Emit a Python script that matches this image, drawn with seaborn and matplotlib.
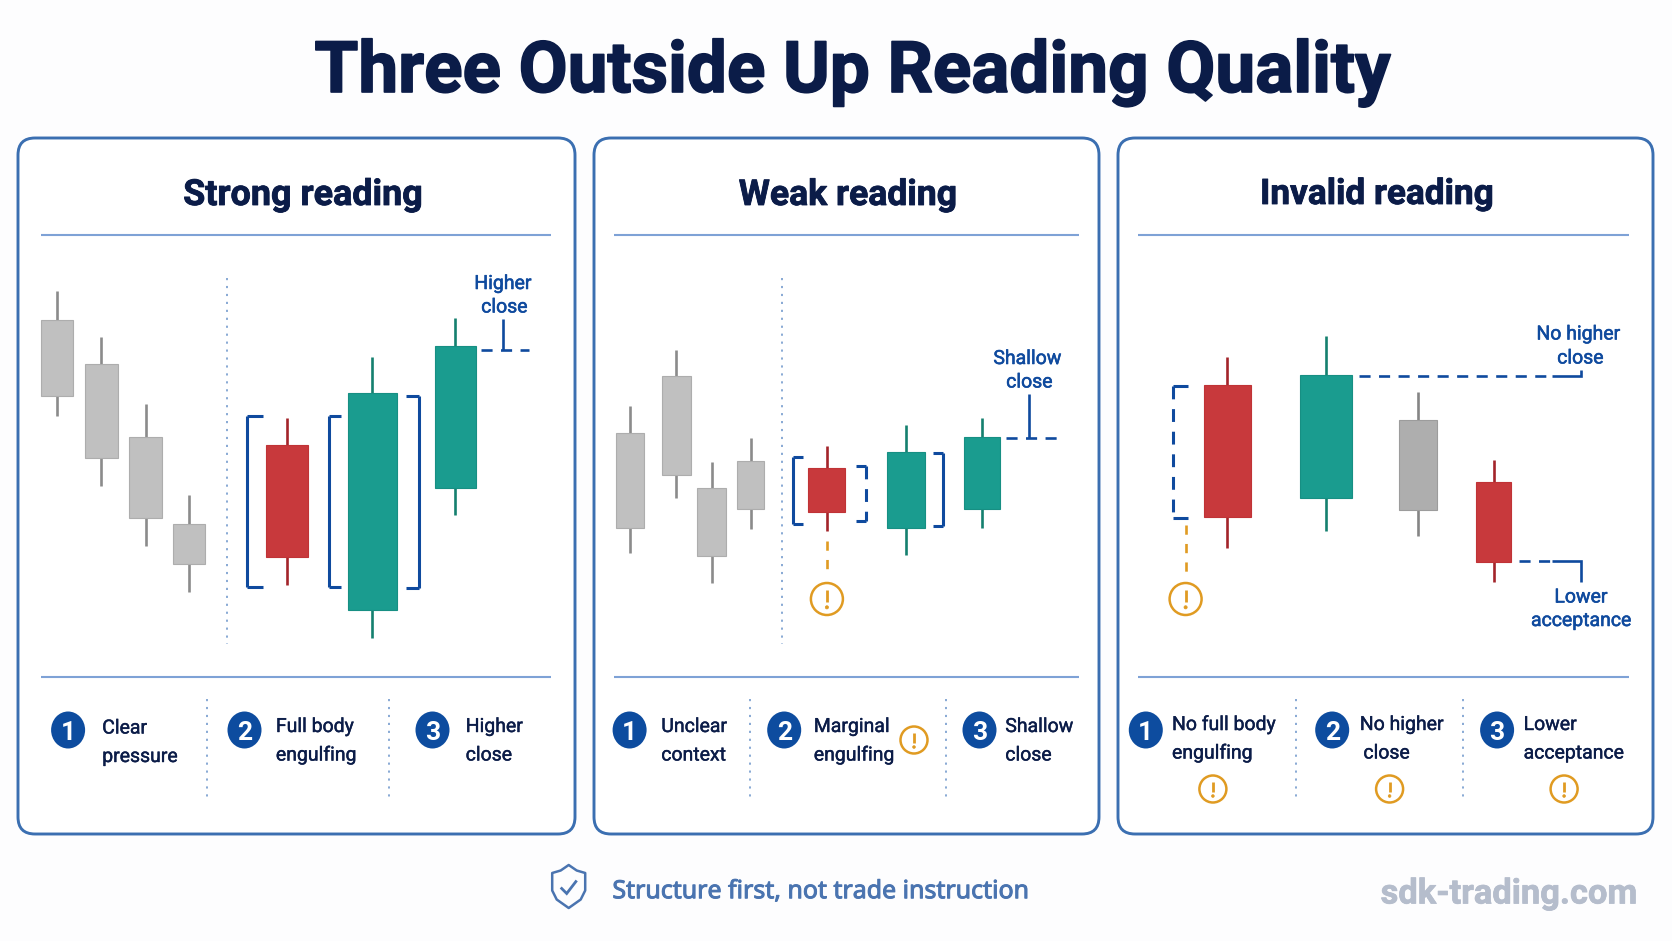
import matplotlib
matplotlib.use("Agg")
import matplotlib.pyplot as plt
import matplotlib.patheffects as pe
import seaborn as sns
import pandas as pd
from matplotlib.patches import FancyBboxPatch, Circle, Ellipse, Polygon

# ---------- data: candle levels (arbitrary price units) ----------
PANEL_TITLES = ["Strong reading", "Weak reading", "Invalid reading"]
MAIN_TITLE = "Three Outside Up Reading Quality"

STRONG_KIND = ["ctx", "ctx", "ctx", "ctx", "red", "green", "green"]
STRONG_HIGH = [650, 604, 537, 446, 523, 584, 623]
STRONG_TOP = [621, 577.5, 504.5, 417, 496, 548, 595]
STRONG_BOT = [545, 483, 423, 377, 384, 331, 453]
STRONG_LOW = [525, 455, 395, 349, 356, 303, 426]

WEAK_KIND = ["ctx", "ctx", "ctx", "ctx", "red", "green", "green"]
WEAK_HIGH = [535, 591, 479, 503, 495, 516, 523]
WEAK_TOP = [508, 565, 453, 480, 473.5, 489, 504]
WEAK_BOT = [413, 466, 385, 432, 429.5, 413, 432]
WEAK_LOW = [388, 443, 358, 412, 410, 386, 413]

INVALID_KIND = ["red", "green", "ctx2", "red"]
INVALID_HIGH = [584, 605, 549, 481]
INVALID_TOP = [556, 566.5, 521, 459.5]
INVALID_BOT = [424, 443, 431, 379.5]
INVALID_LOW = [393, 410, 405, 359.5]

STEPS_STRONG = [["Clear", "pressure"], ["Full body", "engulfing"], ["Higher", "close"]]
STEPS_WEAK = [["Unclear", "context"], ["Marginal", "engulfing"], ["Shallow", "close"]]
STEPS_INVALID = [["No full body", "engulfing"], ["No higher", "close"], ["Lower", "acceptance"]]

# ---------- layout (pixels) ----------
W, H = 1672, 941
STRONG_X = [56.9, 101.4, 145.8, 189.2, 287.2, 372, 455.4]
STRONG_W = [32.4, 32.8, 32.8, 32.4, 41.8, 49, 41]
WEAK_X = [629.6, 676.4, 711.7, 750.5, 826.5, 905.9, 981.9]
WEAK_W = [28.2, 28.2, 28.6, 26.2, 36.5, 38.2, 35.8]
INVALID_X = [1227.2, 1326.1, 1417.5, 1493.5]
INVALID_W = [46.6, 51.6, 38, 34.4]

FRAMES = [(18, 575), (594, 1099), (1118, 1653)]
RULES = [(40.5, 551), (614, 1079), (1138, 1629)]
TITLE_X = [302.7, 847.7, 1376.5]
TITLE_W = [239, 217.5, 233]

NAVY = "#0b1c48"
BLUE = "#0f4a9e"
FRAME = "#3b6fb1"
RULE = "#7ea2d6"
ORANGE = "#e09b22"
STYLE = {
    "ctx": ("#c0c0c0", "#adadad", "#8b8b8b"),
    "ctx2": ("#aeaeae", "#9c9c9c", "#858585"),
    "red": ("#c8393c", "#c03336", "#a3242a"),
    "green": ("#1a9c8f", "#178f83", "#15806f"),
}

sns.set_theme(style="white")
FONT = ["Roboto", "DejaVu Sans"]
plt.rcParams["font.family"] = FONT

BG = "#fdfdfe"
fig = plt.figure(figsize=(W / 100, H / 100), dpi=100, facecolor=BG)
deco = fig.add_axes([0, 0, 1, 1], zorder=1)
deco.set_xlim(0, W)
deco.set_ylim(H, 0)
deco.axis("off")
deco.patch.set_alpha(0)
renderer = fig.canvas.get_renderer()


def text(x, y, s, size=None, width=None, color=NAVY, weight="normal", ha="center", family=None, stroke=0.0):
    t = deco.text(x, y, s, color=color, fontweight=weight, ha=ha, va="center_baseline",
                  fontsize=size or 20, family=family or FONT, zorder=6)
    if width:
        w = t.get_window_extent(renderer).width
        t.set_fontsize(t.get_fontsize() * width / w)
    if stroke:
        t.set_path_effects([pe.withStroke(linewidth=stroke, foreground=color)])
    return t


def line(xs, ys, color=BLUE, lw=2.0, ls="-", z=4):
    deco.plot(xs, ys, color=color, lw=lw, ls=ls, zorder=z, solid_capstyle="butt",
              dash_capstyle="butt", solid_joinstyle="miter")


DASH = (0, (4.2, 3.2))
DOT = (0, (1.2, 3.2))
NOTE = dict(size=14.0, color=BLUE, stroke=0.4)
LOWTXT = dict(size=14.0, ha="left", stroke=0.3)


def bracket(x_spine, x_tip, y0, y1, dashed=False):
    line([x_tip, x_spine], [y0, y0], lw=2.2)
    line([x_tip, x_spine], [y1, y1], lw=2.2)
    line([x_spine, x_spine], [y0, y1], lw=2.2, ls=DASH if dashed else "-")


def warn(x, y, r=14):
    deco.add_patch(Circle((x, y), r, fill=False, ec=ORANGE, lw=1.8, zorder=5))
    line([x, x], [y - r * 0.55, y + r * 0.2], color=ORANGE, lw=2.0, z=6)
    deco.add_patch(Circle((x, y + r * 0.52), r * 0.1, fc=ORANGE, ec=ORANGE, lw=0.5, zorder=6))


def badge(x, n, y=730):
    deco.add_patch(Ellipse((x, y), 34, 37, fc="#0d4c9f", ec="none", zorder=5))
    text(x, y + 1, str(n), size=19, color="white", weight="bold")


def candles(frame, xs, ws, highs, tops, bots, lows, kinds):
    x0, x1 = frame
    y_top, y_bot = 250, 665
    ax = fig.add_axes([x0 / W, 1 - y_bot / H, (x1 - x0) / W, (y_bot - y_top) / H], zorder=2)
    ax.patch.set_alpha(0)
    for x, w, hi, t, b, lo, k in zip(xs, ws, highs, tops, bots, lows, kinds):
        body, edge, wick = STYLE[k]
        ax.vlines(x, lo, hi, color=wick, lw=1.9, zorder=1)
        df = pd.DataFrame({"x": [x], "size": [t - b]})
        sns.barplot(data=df, x="x", y="size", bottom=b, width=w, native_scale=True, color=body,
                    saturation=1, errorbar=None, edgecolor=edge, linewidth=0.8, ax=ax, zorder=2)
    ax.set_xlim(x0, x1)
    ax.set_ylim(H - y_bot, H - y_top)
    ax.axis("off")
    return ax


# ---------- frames and headers ----------
for (fx0, fx1), (rx0, rx1), title, tx, tw in zip(FRAMES, RULES, PANEL_TITLES, TITLE_X, TITLE_W):
    deco.add_patch(FancyBboxPatch((fx0, 138), fx1 - fx0, 696, boxstyle="round,pad=0,rounding_size=17",
                                  fc="white", ec=FRAME, lw=2.1, zorder=1))
    line([rx0, rx1], [234.6, 234.6], color=RULE, lw=1.5, z=2)
    line([rx0, rx1], [676.5, 676.5], color=RULE, lw=1.5, z=2)
    text(tx, 191, title, width=tw, weight="bold", stroke=0.6)

text(852, 65.5, MAIN_TITLE, width=1073, weight="bold", stroke=1.2)

# ---------- candles ----------
candles(FRAMES[0], STRONG_X, STRONG_W, STRONG_HIGH, STRONG_TOP, STRONG_BOT, STRONG_LOW, STRONG_KIND)
candles(FRAMES[1], WEAK_X, WEAK_W, WEAK_HIGH, WEAK_TOP, WEAK_BOT, WEAK_LOW, WEAK_KIND)
candles(FRAMES[2], INVALID_X, INVALID_W, INVALID_HIGH, INVALID_TOP, INVALID_BOT, INVALID_LOW, INVALID_KIND)

# ---------- panel 1 annotation ----------
SEP = "#7fa3d1"
line([226.9, 226.9], [278, 644], color=SEP, lw=1.3, ls=DOT, z=2)
bracket(246.8, 263, 416, 587.3)
bracket(329.2, 340.5, 416, 587.3)
bracket(418.7, 406.3, 395.5, 588.3)
line([480.8, 529.3], [349.7, 349.7], lw=1.9, ls=DASH)
line([503, 503], [319, 349.7], lw=1.9)
text(503, 282, "Higher", **NOTE)
text(504.5, 305.5, "close", **NOTE)

# ---------- panel 2 annotation ----------
line([782.1, 782.1], [278, 644], color=SEP, lw=1.3, ls=DOT, z=2)
bracket(792.8, 803.1, 456.8, 523.9)
bracket(865.5, 855.5, 466.1, 521.2, dashed=True)
bracket(942.6, 932.6, 453, 526)
line([1006.3, 1058.7], [437.5, 437.5], lw=1.9, ls=DASH)
line([1028.7, 1028.7], [394, 437.5], lw=1.9)
text(1027.5, 357, "Shallow", **NOTE)
text(1029.5, 380.5, "close", **NOTE)
line([826.9, 826.9], [541, 575], color=ORANGE, lw=1.9, ls=(0, (3.5, 3.5)))
warn(826.9, 599, 16)

# ---------- panel 3 annotation ----------
bracket(1172.7, 1188.1, 386.2, 517.7, dashed=True)
line([1185.6, 1185.6], [525, 575], color=ORANGE, lw=1.9, ls=(0, (3.5, 3.5)))
warn(1185.6, 599, 16)
line([1359, 1552], [375.5, 375.5], lw=1.9, ls=DASH)
line([1552, 1581.3, 1581.3], [375.5, 375.5, 370], lw=1.9)
text(1578.5, 332.5, "No higher", **NOTE)
text(1580.5, 356.5, "close", **NOTE)
line([1518.6, 1552], [561, 561], lw=1.9, ls=DASH)
line([1552, 1581.3, 1581.3], [561, 561, 581.5], lw=1.9)
text(1581, 595.5, "Lower", **NOTE)
text(1581.5, 619, "acceptance", **NOTE)

# ---------- step rows ----------
for i, (bx, tx, (a, b)) in enumerate(zip([68.1, 244.5, 432.5], [102.2, 275.9, 465.7], STEPS_STRONG)):
    badge(bx, i + 1)
    dy = 1.5 if i == 0 else 0
    text(tx, 725 + dy, a, **LOWTXT)
    text(tx, 753.5 + dy, b, **LOWTXT)
for i, (bx, tx, (a, b)) in enumerate(zip([629.6, 784.2, 979.5], [661.3, 813.8, 1005.3], STEPS_WEAK)):
    badge(bx, i + 1)
    text(tx, 725, a, **LOWTXT)
    text(tx, 753.5, b, **LOWTXT)
warn(914, 740, 13.5)
for i, (bx, tx, tx2, wx, (a, b)) in enumerate(zip([1145.8, 1332.2, 1497.1], [1172, 1359.8, 1523.6],
                                                  [1172, 1363.4, 1523.6], [1212.9, 1389.6, 1564.1], STEPS_INVALID)):
    badge(bx, i + 1)
    text(tx, 723, a, **LOWTXT)
    text(tx2, 751.5, b, **LOWTXT)
    warn(wx, 789, 13.5)
for x in [207.4, 389.2, 750.1, 946.1, 1295.7, 1463.4]:
    line([x, x], [699, 797], color=SEP, lw=1.3, ls=DOT, z=2)

# ---------- footer ----------
FOOT = "#4a74b0"
sx, sy = 568.7, 886.5
shield = [(0, -21.5), (8, -16), (16.5, -13.5), (16.5, 4), (12, 13), (0, 21.5), (-12, 13), (-16.5, 4), (-16.5, -13.5), (-8, -16)]
deco.add_patch(Polygon([(sx + a, sy + b) for a, b in shield], closed=True, fill=False, ec=FOOT, lw=1.8, joinstyle="round", zorder=4))
line([sx - 8, sx - 2, sx + 8], [sy + 1, sy + 7, sy - 6], color=FOOT, lw=2.0)
text(612.4, 888.7, "Structure first, not trade instruction", width=417, color=FOOT, ha="left",
     family=["Noto Sans", "DejaVu Sans"], stroke=0.7)
text(1380.6, 891, "sdk-trading.com", width=256, color="#b5bdcc", weight="bold", ha="left", family=FONT, stroke=0.5)

fig.savefig("out.png", dpi=100, facecolor=BG)
